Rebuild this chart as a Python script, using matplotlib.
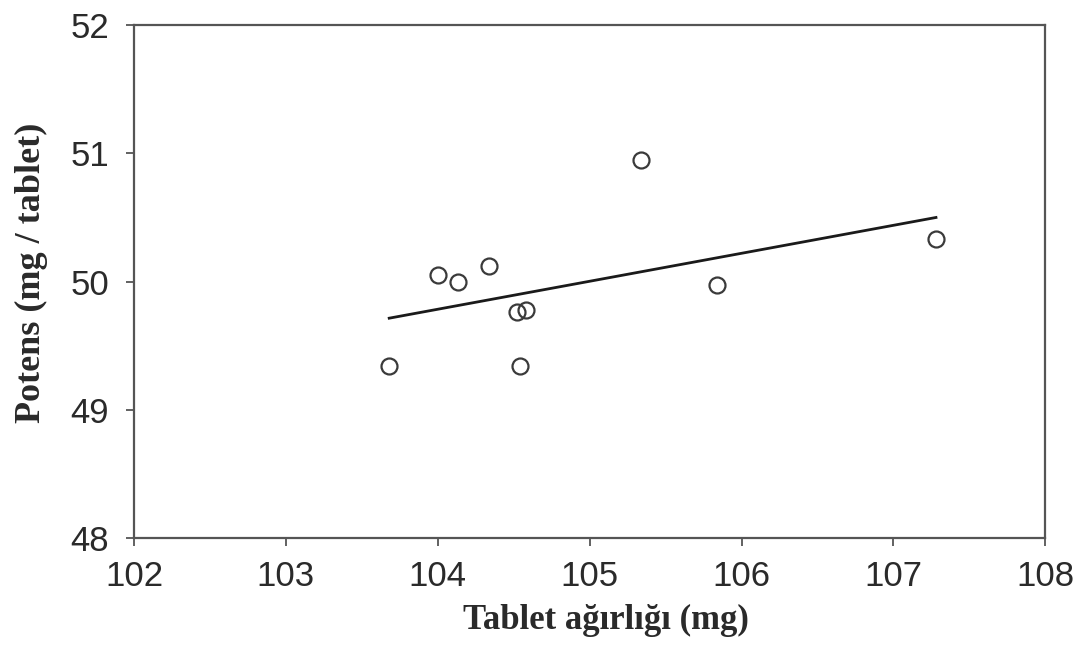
import numpy as np
import matplotlib
matplotlib.use("Agg")
import matplotlib.pyplot as plt

# Tablet weight (mg) vs potency (mg / tablet)
weight = [103.68, 104.00, 104.13, 104.34, 104.52, 104.58, 104.54, 105.34, 105.84, 107.28]
potency = [49.34, 50.05, 50.00, 50.12, 49.76, 49.78, 49.34, 50.95, 49.97, 50.33]

x_ticks = [102, 103, 104, 105, 106, 107, 108]
y_ticks = [48, 49, 50, 51, 52]

x_label = "Tablet ağırlığı (mg)"
y_label = "Potens (mg / tablet)"

fig = plt.figure(figsize=(10.81, 6.45), dpi=100)
ax = fig.add_axes([0.124, 0.166, 0.843, 0.795])

# least squares line over the data range
slope, icpt = np.polyfit(weight, potency, 1)
fit_x = np.array([min(weight), max(weight)])
ax.plot(fit_x, slope * fit_x + icpt, color="#1a1a1a", lw=2)

ax.plot(weight, potency, "o", ms=11.5, mfc="none", mec="#3a3a3a", mew=1.6)

ax.set_xlim(102, 108)
ax.set_ylim(48, 52)
ax.set_xticks(x_ticks)
ax.set_yticks(y_ticks)

for s in ax.spines.values():
    s.set_color("#555555")
    s.set_linewidth(1.6)

ax.tick_params(direction="out", length=6, width=1.3, color="#555555",
               labelsize=25, labelcolor="#2a2a2a")
ax.tick_params(axis="x", pad=10)
ax.tick_params(axis="y", pad=12)
for lab in ax.get_xticklabels() + ax.get_yticklabels():
    lab.set_fontfamily("Liberation Sans")

ax.set_xlabel(x_label, fontfamily="Liberation Serif", fontweight="bold",
              fontsize=25, color="#2a2a2a", labelpad=8)
ax.set_ylabel(y_label, fontfamily="Liberation Serif", fontweight="bold",
              fontsize=26, color="#2a2a2a", labelpad=16)
# labels sit a little off-centre in the original
ax.xaxis.label.set_x(0.518)
ax.yaxis.label.set_y(0.517)

fig.savefig("out.png", dpi=100)
